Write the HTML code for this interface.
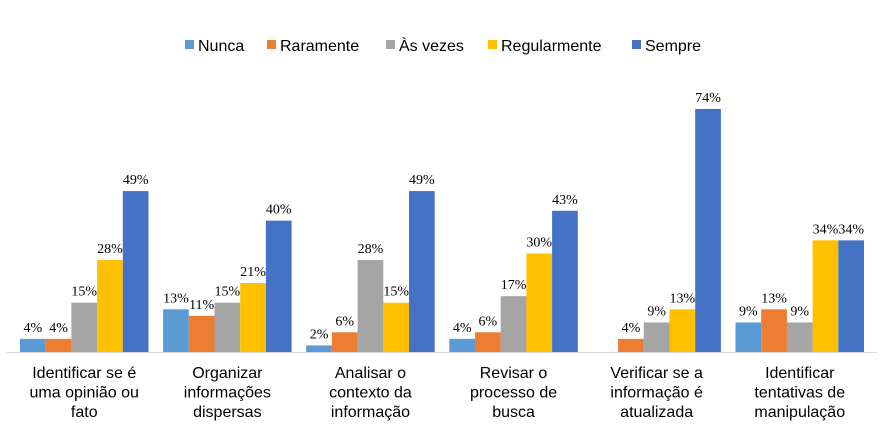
<!DOCTYPE html>
<html><head><meta charset="utf-8"><style>
body{margin:0;background:#fff;}
svg{display:block;}
</style></head><body>
<svg id="chart" width="895" height="443" xmlns="http://www.w3.org/2000/svg">
<g id="legend"></g>
<g id="bars"></g>
<line x1="7" y1="352.5" x2="877" y2="352.5" stroke="#d9d9d9" stroke-width="1"/>
<g id="cats"></g>
</svg>
<script>
const categories = [
 ["Identificar se é","uma opinião ou","fato"],
 ["Organizar","informações","dispersas"],
 ["Analisar o","contexto da","informação"],
 ["Revisar o","processo de","busca"],
 ["Verificar se a","informação é","atualizada"],
 ["Identificar","tentativas de","manipulação"]
];
const seriesNames = ["Nunca","Raramente","Às vezes","Regularmente","Sempre"];
const nunca = [4,13,2,4,0,9];
const raramente = [4,11,6,6,4,13];
const asVezes = [15,15,28,17,9,9];
const regularmente = [28,21,15,30,13,34];
const sempre = [49,40,49,43,74,34];
const colors = ["#5B9BD5","#ED7D31","#A5A5A5","#FFC000","#4472C4"];
const series = [nunca,raramente,asVezes,regularmente,sempre];

const NS="http://www.w3.org/2000/svg";
const baseY=352, pxPer=3.284, groupX0=20, groupW=143.1, barW=25.7;
const yScale=v=>baseY-v*pxPer;
const xBar=(g,s)=>groupX0+g*groupW+s*barW;
function mk(t,a,p){const e=document.createElementNS(NS,t);for(const k in a)e.setAttribute(k,a[k]);p.appendChild(e);return e;}

const bars=document.getElementById('bars');
series.forEach((arr,s)=>{
 arr.forEach((v,g)=>{
  if(v<=0) return;
  const r=mk('rect',{x:xBar(g,s),y:yScale(v),width:barW,height:v*pxPer,fill:colors[s]},bars);
  
  
  const t=mk('text',{x:xBar(g,s)+barW/2,y:yScale(v)-7,'text-anchor':'middle','font-family':'"Liberation Serif",serif','font-size':'14',fill:'#000'},bars);
  t.textContent=v+'%';
  
  
 });
});

const cats=document.getElementById('cats');
categories.forEach((lines,g)=>{
 const cx=groupX0+g*groupW+barW*2.5;
 lines.forEach((ln,i)=>{
  const t=mk('text',{x:cx,y:378+i*19.5,'text-anchor':'middle','font-family':'"Liberation Sans",sans-serif','font-size':'16',fill:'#000'},cats);
  t.textContent=ln;
  
  
 });
});

const legend=document.getElementById('legend');
const legX=[185,267,386,488,632];
seriesNames.forEach((n,i)=>{
 const r=mk('rect',{x:legX[i],y:40,width:9,height:9,fill:colors[i]},legend);
 
 
 const t=mk('text',{x:legX[i]+13,y:51,'font-family':'"Liberation Sans",sans-serif','font-size':'16',fill:'#000'},legend);
 t.textContent=n;
 
 
});
</script>
</body></html>
